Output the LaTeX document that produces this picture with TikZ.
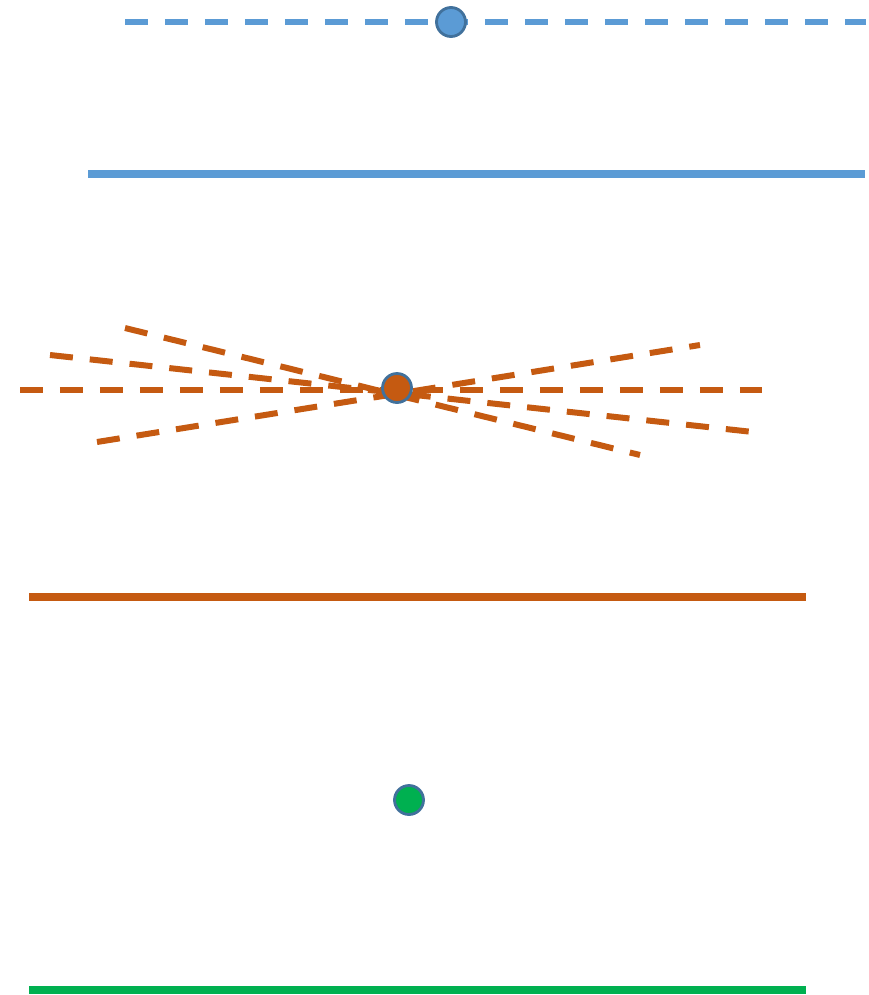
\documentclass[tikz,border=0pt]{standalone}
\usepackage{tikz}
\usetikzlibrary{positioning}
\definecolor{skyblue}{HTML}{5B9BD5}
\definecolor{rust}{HTML}{C55A11}
\definecolor{leaf}{HTML}{00B050}
\definecolor{rim}{HTML}{41719C}

\begin{document}
\begin{tikzpicture}[
    x=0.02cm, y=-0.02cm,
    dot/.style={
        circle,
        draw=rim,
        line width=1.6pt,
        minimum size=0.58cm,
        inner sep=0pt
    },
    dashline/.style={
        line width=0.12cm,
        dash pattern=on 0.46cm off 0.34cm
    },
    bar/.style={
        line width=0.17cm
    }
]
    \useasboundingbox (0,0) rectangle (869,995);

    % top: blue
    \coordinate (b1) at (125,22);
    \coordinate (b2) at (866,22);
    \draw[dashline, skyblue] (b1) -- (b2);
    \node[dot, fill=skyblue] (bluedot) at (451,22) {};
    \coordinate (bl) at (88,174);
    \coordinate (br) at (865,174);
    \draw[bar, skyblue] (bl) -- (br);

    % middle: orange fan
    \coordinate (h1) at (20,390);
    \coordinate (h2) at (762,390);
    \coordinate (s1) at (125,328);
    \coordinate (e1) at (640,455);
    \coordinate (s2) at (50,355);
    \coordinate (e2) at (753,432);
    \coordinate (s3) at (97,442);
    \coordinate (e3) at (700,345);
    \draw[dashline, rust] (h1) -- (h2);
    \draw[dashline, rust] (s1) -- (e1);
    \draw[dashline, rust] (s2) -- (e2);
    \draw[dashline, rust] (s3) -- (e3);
    \node[dot, fill=rust] (orangedot) at (397,388) {};
    \coordinate (ol) at (29,597);
    \coordinate (or) at (806,597);
    \draw[bar, rust] (ol) -- (or);

    % bottom: green
    \node[dot, fill=leaf] (greendot) at (409,800) {};
    \coordinate (gl) at (29,990);
    \coordinate (gr) at (806,990);
    \draw[bar, leaf] (gl) -- (gr);
\end{tikzpicture}
\end{document}
